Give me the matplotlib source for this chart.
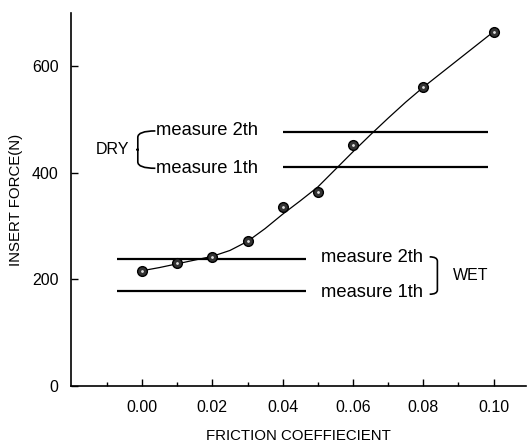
import numpy as np
from matplotlib import pyplot as plt
from matplotlib.path import Path
from matplotlib.patches import PathPatch

plt.rcParams['font.family'] = ['Liberation Sans', 'DejaVu Sans']

# measured points
friction = [0.00, 0.01, 0.02, 0.03, 0.04, 0.05, 0.06, 0.08, 0.10]
force = [215, 231, 242, 271, 336, 364, 451, 561, 663]

# smooth curve drawn through the data
curve_x = [0.000, 0.005, 0.010, 0.015, 0.020, 0.025, 0.030, 0.035, 0.040, 0.045, 0.050,
           0.055, 0.060, 0.065, 0.070, 0.075, 0.080, 0.085, 0.090, 0.095, 0.100]
curve_y = [216, 222, 229, 236, 243, 254, 271, 295, 322, 347, 373,
           406, 439, 471, 502, 532, 560, 586, 612, 638, 664]

# horizontal measure levels
dry_levels = [411, 476]     # 1th, 2th
dry_span = [0.040, 0.0985]
wet_levels = [178, 238]     # 1th, 2th
wet_span = [-0.007, 0.0465]

xticks = [0.00, 0.02, 0.04, 0.06, 0.08, 0.10]
xticklabels = ['0.00', '0.02', '0.04', '0..06', '0.08', '0.10']
yticks = [0, 200, 400, 600]

fig = plt.figure(figsize=(5.28, 4.44), dpi=100)
ax = fig.add_axes([71/528, 58/444, 455/528, 373/444])

ax.plot(curve_x, curve_y, color='black', lw=0.9, zorder=2)
ax.plot(friction, force, 'o', ms=7, mfc='#333333', mec='black', mew=1, zorder=3)
ax.plot(friction, force, '.', ms=2, color='#dddddd', zorder=4)

for lv in dry_levels:
    ax.plot(dry_span, [lv, lv], color='black', lw=1.6, solid_capstyle='butt')
for lv in wet_levels:
    ax.plot(wet_span, [lv, lv], color='black', lw=1.6, solid_capstyle='butt')

ax.set_xlim(-0.0202, 0.1092)
ax.set_ylim(0, 699)
ax.set_xticks(xticks)
ax.set_xticklabels(xticklabels)
ax.set_xticks(np.arange(-0.01, 0.11, 0.02), minor=True)
ax.set_yticks(yticks)
ax.tick_params(axis='both', which='major', direction='in', length=5, width=1, labelsize=11.5)
ax.tick_params(axis='x', which='major', pad=10)
ax.tick_params(axis='y', which='major', pad=9)
ax.tick_params(axis='x', which='minor', direction='in', length=3, width=1)
for s in ['top', 'right']:
    ax.spines[s].set_visible(False)
for s in ['left', 'bottom']:
    ax.spines[s].set_linewidth(1.2)

ax.set_xlabel('FRICTION COEFFIECIENT', fontsize=10.8, labelpad=10)
ax.set_ylabel('INSERT FORCE(N)', fontsize=10.8, labelpad=6)

# DRY labels and brace
ax.text(0.0040, dry_levels[1] + 3, 'measure 2th', fontsize=13.2, va='center', ha='left')
ax.text(0.0040, dry_levels[0] - 3, 'measure 1th', fontsize=13.2, va='center', ha='left')
ax.text(-0.0133, (dry_levels[0] + dry_levels[1]) / 2, 'DRY', fontsize=11.5, va='center', ha='left')
bx0, bx1 = -0.0012, 0.0038
top, bot = dry_levels[1] + 2, dry_levels[0] - 3
mid = (top + bot) / 2
verts = [(bx1, top), (bx0, top), (bx0, top - 12),
         (bx0, mid), (bx0 - 0.0004, mid), (bx0, mid),
         (bx0, bot + 12), (bx0, bot), (bx1, bot)]
codes = [Path.MOVETO, Path.CURVE3, Path.CURVE3,
         Path.LINETO, Path.LINETO, Path.LINETO,
         Path.LINETO, Path.CURVE3, Path.CURVE3]
ax.add_patch(PathPatch(Path(verts, codes), fill=False, lw=1.2, color='black'))

# WET labels and brace
ax.text(0.0510, wet_levels[1] + 3, 'measure 2th', fontsize=13.2, va='center', ha='left')
ax.text(0.0510, wet_levels[0] - 3, 'measure 1th', fontsize=13.2, va='center', ha='left')
ax.text(0.0885, (wet_levels[0] + wet_levels[1]) / 2, 'WET', fontsize=11.5, va='center', ha='left')
cx0, cx1 = 0.0818, 0.0840
top, bot = wet_levels[1] + 4, wet_levels[0] - 6
verts = [(cx0, top), (cx1, top), (cx1, top - 8),
         (cx1, bot + 8), (cx1, bot), (cx0, bot)]
codes = [Path.MOVETO, Path.CURVE3, Path.CURVE3,
         Path.LINETO, Path.CURVE3, Path.CURVE3]
ax.add_patch(PathPatch(Path(verts, codes), fill=False, lw=1.2, color='black'))

plt.savefig('out.png', dpi=100)
